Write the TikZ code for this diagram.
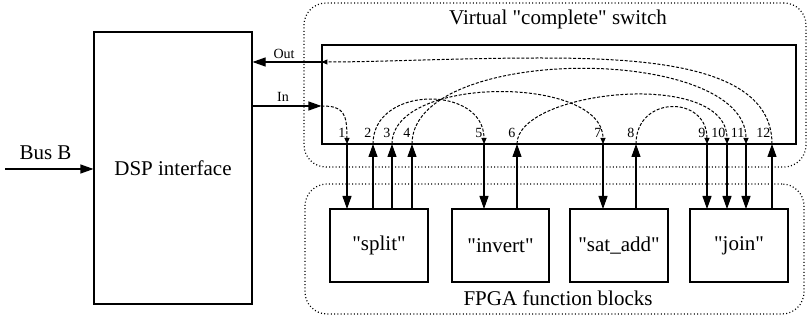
\documentclass[tikz,border=0pt]{standalone}
\usepackage{fontspec}
\setmainfont{Liberation Serif}
\usetikzlibrary{arrows.meta}
\newcommand{\dq}{\textquotedbl}
\begin{document}
\begin{tikzpicture}[x=1pt,y=-1pt,
  box/.style={draw, line width=1.1pt, inner sep=0pt, font=\fontsize{21}{25}\selectfont},
  region/.style={draw, line width=1.2pt, dash pattern=on 1pt off 2.3pt, rounded corners=22pt, inner sep=0pt},
  big/.style={line width=1.1pt, -{Triangle[length=13pt,width=9pt]}},
  link/.style={line width=1pt, dash pattern=on 3pt off 1.7pt, -{Triangle[length=6pt,width=5pt]}},
  bigfont/.style={font=\fontsize{21}{25}\selectfont, inner sep=0pt},
  smallfont/.style={font=\fontsize{14}{16}\selectfont, inner sep=0pt}]
\useasboundingbox (0,0) rectangle (807,323);
% regions
\node[region, minimum width=502pt, minimum height=164pt] (vreg) at (555,85) {};
\node[region, minimum width=499pt, minimum height=130pt] (freg) at (554.5,249) {};
\node[bigfont, anchor=base] (vtitle) at (558,25) {Virtual \dq complete\dq\ switch};
\node[bigfont, anchor=base] (ftitle) at (558,306) {FPGA function blocks};
% main boxes
\node[box, minimum width=158pt, minimum height=272pt] (dsp) at (173,168) {DSP interface};
\node[box, minimum width=474pt, minimum height=99pt] (sw) at (559,94.5) {};
\node[box, minimum width=98pt, minimum height=73pt] (split) at (379,245.5) {\dq split\dq};
\node[box, minimum width=97pt, minimum height=73pt] (invert) at (500.5,245.5) {\dq invert\dq};
\node[box, minimum width=98pt, minimum height=73pt] (satadd) at (619,245.5) {\dq sat\_add\dq};
\node[box, minimum width=98pt, minimum height=73pt] (join) at (739,245.5) {\dq join\dq};
% bus B
\coordinate (busin) at (5,169);
\draw[big] (busin) -- (dsp.west |- busin);
\node[bigfont, anchor=base] (buslbl) at (45.5,160) {Bus B};
% in / out
\coordinate (outY) at (0,62);
\coordinate (inY) at (0,106);
\coordinate (outS) at (sw.west |- outY);
\coordinate (inS) at (sw.west |- inY);
\draw[big] (outS) -- (dsp.east |- outY);
\draw[big] (dsp.east |- inY) -- (inS);
\node[smallfont, anchor=base] (outlbl) at (284,59) {Out};
\node[smallfont, anchor=base] (inlbl) at (283,102) {In};
% ports
\foreach \i/\x in {1/347,2/373,3/392,4/412,5/484,6/517,7/603,8/636,9/707,10/727,11/746,12/772}{
  \coordinate (s\i) at (\x,144);
  \coordinate (f\i) at (\x,209);
  \node[smallfont, anchor=base east] (l\i) at (\x-1.5,138) {\i};
}
\foreach \i in {1,5,7,9,10,11}{ \draw[big] (s\i) -- (f\i); }
\foreach \i in {2,3,4,6,8,12}{ \draw[big] (f\i) -- (s\i); }
% switch links
\draw[link] (inS) .. controls (343,106) and (347,112) .. (s1);
\draw[link] (s2) .. controls (373,85) and (484,85) .. (s5);
\draw[link] (s3) .. controls (392,75) and (603,75) .. (s7);
\draw[link] (s4) .. controls (412,44) and (746,44) .. (s11);
\draw[link] (s6) .. controls (517,90) and (727,68) .. (s10);
\draw[link] (s8) .. controls (636,95) and (707,95) .. (s9);
\draw[link] (s12) .. controls (772,66) and (650,58) .. (540,58) .. controls (460,58) and (380,62) .. (outS);
\end{tikzpicture}
\end{document}
